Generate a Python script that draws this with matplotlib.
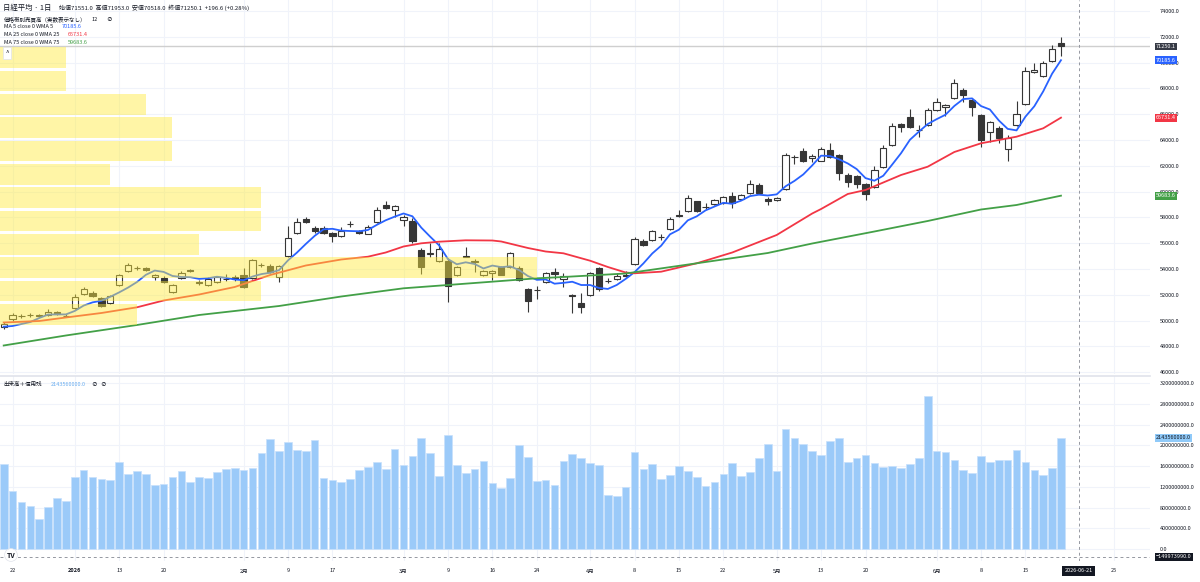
import matplotlib.pyplot as plt
import matplotlib.transforms as mtransforms
from matplotlib.patches import Rectangle
import numpy as np

plt.rcParams['font.family'] = ['Noto Sans CJK JP', 'DejaVu Sans']

# daily candles (bar index 0 = 2025-12-19 ... 119 = 2026-06-19)
opens = [49500, 50124, 50330, 50420, 50400, 50434, 50643, 50360, 50953, 52085,
         52140, 51728, 51340, 52760, 53845, 54050, 54053, 53356, 53326, 52217,
         53302, 53900, 53015, 52760, 53015, 53220, 53403, 53535, 53279, 54280,
         54232, 53403, 55030, 56767, 57853, 57178, 57200, 56814, 56542, 57480,
         56969, 56736, 57643, 58985, 58573, 57798, 57721, 55473, 55200, 54620,
         54643, 53510, 55000, 54590, 53535, 53666, 54139, 54178, 54108, 52473,
         52400, 53015, 53790, 53248, 52008, 51341, 51961, 54054, 53070, 53201,
         53557, 54387, 56194, 56248, 56450, 57077, 58209, 58496, 59248, 58780,
         59016, 59116, 59681, 59403, 59868, 60511, 59450, 59349, 60201, 62650,
         63146, 62604, 62394, 63228, 62837, 61263, 61209, 60566, 60380, 61930,
         63612, 65217, 65760, 64780, 65139, 66326, 66581, 67233, 67853, 67124,
         65938, 64597, 64953, 63325, 65163, 66791, 69248, 68984, 70147, 71551]
highs = [49900, 50589, 50510, 50590, 50520, 50920, 50750, 50500, 52040, 52600,
         52270, 51800, 52000, 53600, 54460, 54200, 54150, 53650, 53450, 52850,
         53870, 54000, 53148, 53350, 53450, 53612, 53500, 54080, 54800, 54460,
         54350, 54300, 57333, 57976, 58008, 57333, 57300, 56900, 57281, 57720,
         57050, 57400, 58829, 59272, 58950, 58150, 57930, 55628, 56039, 55990,
         54853, 54250, 55729, 54800, 53900, 53900, 54250, 55350, 54200, 52550,
         52650, 53800, 54100, 53713, 52050, 52116, 53800, 54150, 53279, 53713,
         53868, 56457, 56349, 57024, 56690, 58031, 58573, 59737, 59300, 59140,
         59400, 59650, 59992, 59800, 60899, 60643, 59550, 59600, 63015, 62840,
         63356, 62915, 63460, 63744, 62900, 61464, 61300, 60650, 61985, 63612,
         65341, 65294, 66403, 65163, 66457, 67233, 66800, 68729, 68008, 67200,
         66000, 65450, 65050, 64364, 67023, 69636, 69946, 70124, 71364, 71953]
lows = [49350, 49968, 50200, 50300, 50280, 50360, 50400, 50250, 50900, 52000,
        51830, 51080, 51260, 52700, 53800, 53900, 53850, 53148, 52950, 52150,
        53250, 53750, 52736, 52700, 52950, 53050, 53100, 52530, 53200, 54150,
        53700, 53015, 54950, 56700, 57589, 56814, 56700, 56116, 56480, 57256,
        56750, 56700, 57600, 58650, 58054, 57333, 56039, 53612, 54953, 54550,
        51418, 53450, 54900, 53790, 53450, 53148, 53500, 54100, 53050, 50690,
        51650, 52950, 53201, 52627, 50566, 50566, 51900, 52317, 52891, 53150,
        53356, 54300, 55783, 56200, 56248, 57000, 58050, 58450, 58400, 58627,
        58950, 59050, 58705, 59350, 59800, 59800, 58961, 59300, 60150, 62140,
        62300, 62318, 62350, 62600, 60899, 60380, 60256, 59349, 60300, 61850,
        63550, 64620, 64900, 64256, 65050, 66250, 65860, 67150, 66969, 65884,
        63481, 63868, 63744, 62372, 65100, 66700, 69171, 68900, 70080, 70518]
closes = [49740, 50434, 50380, 50460, 50380, 50690, 50488, 50380, 51800, 52465,
          51930, 51132, 51907, 53510, 54333, 54070, 53922, 53557, 52992, 52760,
          53666, 53850, 52892, 53248, 53356, 53240, 53201, 52605, 54674, 54300,
          53767, 54232, 56380, 57666, 57643, 56922, 56767, 56581, 56953, 57500,
          56814, 57281, 58573, 58728, 58883, 58054, 56194, 54178, 55220, 55550,
          52705, 54178, 54940, 54570, 53821, 53821, 53566, 55263, 53132, 51496,
          52350, 53713, 53612, 53457, 51930, 51078, 53713, 52473, 53080, 53457,
          53433, 56325, 55860, 56946, 56470, 57852, 58108, 59481, 58496, 58800,
          59326, 59558, 59092, 59713, 60565, 59868, 59248, 59527, 62837, 62660,
          62394, 62736, 63305, 62690, 61418, 60767, 60566, 59790, 61674, 63357,
          65085, 64984, 64984, 64800, 66326, 66969, 66713, 68396, 67465, 66581,
          64000, 65372, 64178, 64178, 65993, 69326, 69403, 69946, 71031, 71250.1]

# 出来高 (x 1e6)
volumes = [1633, 1118, 912, 823, 573, 804, 977, 925, 1388, 1517,
           1382, 1344, 1330, 1683, 1440, 1504, 1440, 1228, 1259, 1382,
           1504, 1286, 1382, 1363, 1490, 1536, 1567, 1529, 1567, 1856,
           2126, 1889, 2057, 1914, 1889, 2101, 1369, 1324, 1297, 1349,
           1523, 1575, 1671, 1548, 1922, 1619, 1793, 2134, 1851, 1413,
           2192, 1619, 1465, 1542, 1691, 1278, 1170, 1363, 2005, 1773,
           1317, 1336, 1240, 1696, 1831, 1748, 1658, 1619, 1041, 1016,
           1189, 1870, 1542, 1644, 1344, 1426, 1606, 1504, 1388, 1205,
           1292, 1452, 1652, 1407, 1484, 1748, 2018, 1504, 2307, 2134,
           2024, 1889, 1806, 2076, 2134, 1677, 1754, 1818, 1658, 1587,
           1606, 1561, 1633, 1760, 2955, 1889, 1870, 1710, 1523, 1471,
           1787, 1677, 1710, 1710, 1903, 1677, 1529, 1432, 1556, 2143.56]

# MA 5 line, one value per bar
ma5 = [49527, 49581, 49736, 49891, 50200, 50469, 50480, 50480, 50748, 51165,
       51413, 51541, 51847, 52189, 52562, 52990, 53548, 53878, 53775, 53460,
       53379, 53365, 53232, 53283, 53402, 53317, 53187, 53130, 53415, 53604,
       53709, 53916, 54671, 55269, 55938, 56569, 57076, 57116, 56973, 56945,
       56923, 57026, 57424, 57779, 58056, 58304, 58086, 57207, 56506, 55839,
       54769, 54366, 54519, 54389, 54043, 54266, 54144, 54208, 53921, 53456,
       53161, 53191, 52861, 52926, 53012, 52758, 52758, 52530, 52455, 52760,
       53231, 53754, 54431, 55204, 55807, 56691, 57047, 57771, 58081, 58547,
       58842, 59132, 59054, 59298, 59651, 59759, 59697, 59784, 60409, 60828,
       61333, 62031, 62786, 62757, 62509, 62183, 61749, 61046, 60843, 61231,
       62094, 62978, 64017, 64642, 65236, 65613, 65958, 66641, 67174, 67225,
       66631, 66363, 65519, 64862, 64744, 65809, 66616, 67769, 69140, 70185.6]

# MA 25 / MA 75 read at selected bars
ma25_bar = [0, 4, 7, 11, 15, 18, 22, 26, 30, 34, 38, 41, 43, 45, 47, 49, 52, 55, 56, 59,
            61, 63, 66, 68, 70, 71, 74, 78, 82, 87, 91, 92, 95, 97, 101, 104, 107, 110,
            114, 117, 119]
ma25_val = [49852, 49969, 50240, 50589, 51031, 51558, 52023, 52604, 53535, 54271, 54736,
            54953, 55279, 55744, 55992, 56116, 56225, 56209, 56132, 55628, 55356, 55217,
            54643, 54155, 53729, 53667, 53791, 54442, 55279, 56636, 58302, 58651, 59814,
            60124, 61287, 61930, 63070, 63744, 64256, 64907, 65731.4]
ma75_bar = [0, 7, 15, 22, 31, 38, 45, 50, 56, 60, 63, 67, 70, 78, 86, 91, 98, 104, 110, 114, 119]
ma75_val = [48070, 48845, 49659, 50434, 51132, 51868, 52504, 52760, 53070, 53279, 53380,
            53535, 53651, 54442, 55240, 55977, 56907, 57721, 58612, 58961, 59683.6]

# 価格帯別売買高 (12 rows, relative volume, top row first)
prof_price = [70385, 68576, 66767, 64958, 63149, 61340, 59531, 57722, 55913, 54104, 52295, 50486]
prof_vol = [12.3, 12.3, 27.2, 32.0, 32.0, 20.5, 48.6, 48.6, 37.1, 100, 48.6, 25.5]
prof_step = 1809

tick_bar = [1, 8, 13, 18, 27, 32, 37, 45, 50, 55, 60, 66, 71, 76, 81, 87, 92, 97, 105, 110, 115, 125]
tick_lab = ['22', '2026', '13', '20', '2月', '9', '17', '3月', '9', '16', '24', '4月',
            '8', '15', '22', '5月', '13', '20', '6月', '8', '15', '25']

W, H = 1200, 582
fx = lambda px: px / W
fy = lambda py: 1 - py / H

dark = '#363636'
txt = '#131722'
grid_c = '#f0f3fa'

fig = plt.figure(figsize=(12, 5.82), dpi=100)
ax1 = fig.add_axes([0, fy(374), fx(1150), 374 / H])
ax2 = fig.add_axes([0, fy(561), fx(1150), (561 - 376) / H])

x = np.arange(len(closes))
o = np.array(opens); c = np.array(closes)
up = c >= o

# candles
ax1.vlines(x, lows, highs, color=dark, lw=0.8, zorder=2)
bottom = np.minimum(o, c)
height = np.maximum(np.abs(c - o), 20)
ax1.bar(x[up], height[up], bottom=bottom[up], width=0.7, facecolor='white',
        edgecolor=dark, linewidth=0.8, zorder=2.2)
ax1.bar(x[~up], height[~up], bottom=bottom[~up], width=0.7, facecolor=dark,
        edgecolor=dark, linewidth=0.8, zorder=2.2)

# moving averages
ax1.plot(x, ma5, color='#2962ff', lw=1.3, zorder=3)
ax1.plot(ma25_bar, ma25_val, color='#f23645', lw=1.3, zorder=3)
ax1.plot(ma75_bar, ma75_val, color='#43a047', lw=1.3, zorder=3)

# last price line
ax1.axhline(71250.1, color='#cfcfcf', lw=1.0, zorder=1)

# volume profile drawn over the chart
trans = mtransforms.blended_transform_factory(ax1.transAxes, ax1.transData)
for p, v in zip(prof_price, prof_vol):
    ax1.add_patch(Rectangle((0, p - 0.445 * prof_step), v / 100 * 0.467, 0.89 * prof_step,
                            transform=trans, facecolor='#ffeb3b', alpha=0.45,
                            edgecolor='none', zorder=4))

ax1.set_xlim(-0.4164, 129.02)
ax1.set_ylim(45860, 74852.7)
ax1.set_yticks(np.arange(46000, 74001, 2000))
ax1.set_yticklabels([f'{v:.1f}' for v in np.arange(46000, 74001, 2000)])
ax1.set_xticks(tick_bar)
ax1.tick_params(axis='x', labelbottom=False, length=0)

# volume pane
ax2.bar(x, np.array(volumes) * 1e6, width=0.86, color='#9bcaf9', edgecolor='#c8e1fc',
        linewidth=0.5, zorder=2)
ax2.set_xlim(-0.4164, 129.02)
ax2.set_ylim(-2.313e8, 33.35e8)
vt = np.arange(0, 3.2e9 + 1, 4e8)
ax2.set_yticks(vt)
ax2.set_yticklabels([f'{v:.1f}' for v in vt])
ax2.set_xticks(tick_bar)
ax2.set_xticklabels(tick_lab)
for lab in ax2.get_xticklabels():
    if lab.get_text() == '2026':
        lab.set_fontweight('bold')

for ax in (ax1, ax2):
    ax.yaxis.tick_right()
    ax.tick_params(axis='y', length=0, pad=7.2, labelsize=4, colors=txt)
    ax.tick_params(axis='x', length=0, pad=5.4, labelsize=4, colors=txt)
    ax.grid(True, color=grid_c, lw=0.8, zorder=0)
    ax.set_axisbelow(True)
    for s in ax.spines.values():
        s.set_visible(False)
    ax.axvline(121, color='#9598a1', lw=0.7, ls=(0, (3, 3)), zorder=6)
ax2.spines['top'].set_visible(True)
ax2.spines['top'].set_color('#e0e3eb')
ax2.spines['top'].set_linewidth(1.2)
ax2.axhline(-149973990, color='#9598a1', lw=0.7, ls=(0, (3, 3)), zorder=6)

# value boxes on the price scale
def price_box(ax, val, label, fc, tc='white'):
    t = mtransforms.blended_transform_factory(fig.transFigure, ax.transData)
    ax.text(fx(1156), val, label, transform=t, ha='left', va='center', fontsize=4,
            color=tc, clip_on=False, zorder=10,
            bbox=dict(boxstyle='square,pad=0.25', fc=fc, ec='none'))

price_box(ax1, 71250.1, '71250.1', '#363a45')
price_box(ax1, 70185.6, '70185.6', '#2962ff')
price_box(ax1, 65731.4, '65731.4', '#f23645')
price_box(ax1, 59683.6, '59683.6', '#43a047')
price_box(ax2, 2143560000, '2143560000.0', '#90caf9', txt)
price_box(ax2, -149973990, '−149973990.0', '#131722')

tx = mtransforms.blended_transform_factory(ax2.transData, fig.transFigure)
ax2.text(121, fy(571), '2026-06-21', transform=tx, ha='center', va='center', fontsize=4,
         color='white', clip_on=False, zorder=10,
         bbox=dict(boxstyle='square,pad=0.4', fc='#131722', ec='none'))

# legend texts
fig.text(fx(3), fy(7.5), '日経平均 · 1日', fontsize=5.3, color=txt, va='center')
fig.text(fx(59), fy(7.5), '始値71551.0  高値71953.0  安値70518.0  終値71250.1  +196.6 (+0.28%)',
         fontsize=4.3, color=txt, va='center')
fig.text(fx(4), fy(19.5), '価格帯別売買高（実数表示なし）', fontsize=4, color=txt, va='center')
fig.text(fx(92), fy(19.5), '12', fontsize=4, color=txt, va='center')
fig.text(fx(106), fy(19.5), '⊘', fontsize=4, color=txt, va='center')
fig.text(fx(4), fy(27), 'MA 5 close 0 WMA 5', fontsize=4, color=txt, va='center')
fig.text(fx(62), fy(27), '70185.6', fontsize=4, color='#2962ff', va='center')
fig.text(fx(4), fy(35), 'MA 25 close 0 WMA 25', fontsize=4, color=txt, va='center')
fig.text(fx(67.5), fy(35), '65731.4', fontsize=4, color='#f23645', va='center')
fig.text(fx(4), fy(43), 'MA 75 close 0 WMA 75', fontsize=4, color=txt, va='center')
fig.text(fx(67.5), fy(43), '59683.6', fontsize=4, color='#43a047', va='center')
fig.text(fx(7), fy(53), '^', fontsize=4.5, color=txt, va='center', ha='center',
         bbox=dict(boxstyle='square,pad=0.35', fc='white', ec='#e0e3eb', lw=0.5))

fig.text(fx(3), fy(384), '出来高＋信用残', fontsize=4, color=txt, va='center')
fig.text(fx(51), fy(384), '2143560000.0', fontsize=4, color='#6aaef0', va='center')
fig.text(fx(91), fy(384), '⊘', fontsize=4, color=txt, va='center')
fig.text(fx(100), fy(384), '⊘', fontsize=4, color=txt, va='center')

fig.text(fx(11), fy(555), 'TV', fontsize=5, fontweight='bold', color=txt, va='center',
         ha='center', bbox=dict(boxstyle='circle,pad=0.3', fc='white', ec='#e0e3eb', lw=0.5))

fig.savefig('out.png', dpi=100)
